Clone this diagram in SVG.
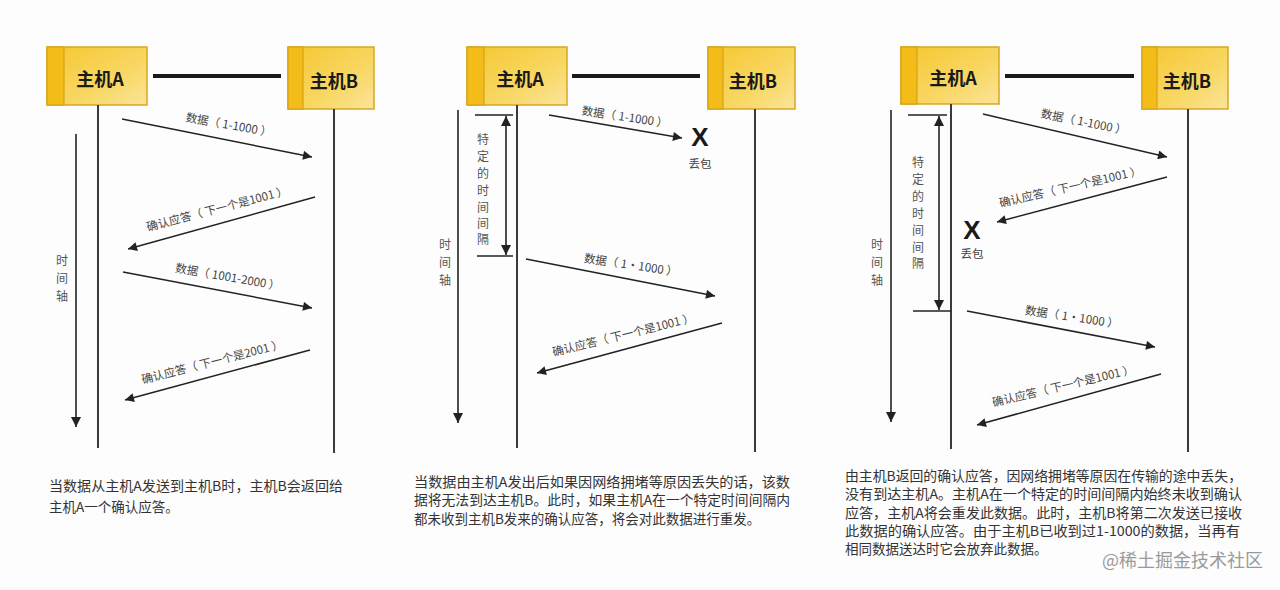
<svg xmlns="http://www.w3.org/2000/svg" width="1280" height="590" viewBox="0 0 1280 590">
<defs>
<linearGradient id="hostFill" x1="0" y1="0" x2="1" y2="1">
<stop offset="0" stop-color="#F5C630"/>
<stop offset="0.6" stop-color="#F8D762"/>
<stop offset="1" stop-color="#FBE49A"/>
</linearGradient>
<marker id="ah" viewBox="0 0 10 10" refX="10" refY="5" markerWidth="13" markerHeight="9" markerUnits="userSpaceOnUse" orient="auto-start-reverse">
<path d="M0,0 L10,5 L0,10 z" fill="#222"/>
</marker>
<marker id="ahv" viewBox="0 0 10 10" refX="10" refY="5" markerWidth="14" markerHeight="10" markerUnits="userSpaceOnUse" orient="auto-start-reverse">
<path d="M0,0 L10,5 L0,10 z" fill="#222"/>
</marker>
</defs>
<style>
.box{fill:url(#hostFill);stroke:#D8A620;stroke-width:1.5}
.stripe{fill:#F3BC18;stroke:#D5A21A;stroke-width:1.2}
.hname{font-family:"Noto Sans CJK SC","Liberation Sans",sans-serif;font-size:18px;font-weight:bold;fill:#1a1a1a;text-anchor:middle;dominant-baseline:central}
.link{stroke:#1a1a1a;stroke-width:4}
.life{stroke:#3a3a3a;stroke-width:2;fill:none}
.msg{stroke:#222;stroke-width:1.5;fill:none;marker-end:url(#ah)}
.axis{stroke:#222;stroke-width:1.6;fill:none;marker-end:url(#ahv)}
.intv{stroke:#222;stroke-width:1.6;fill:none;marker-start:url(#ahv);marker-end:url(#ahv)}
.tick{stroke:#222;stroke-width:1.5}
.lbl{font-family:"Noto Sans CJK SC","Liberation Sans",sans-serif;font-size:11.5px;fill:#444;text-anchor:middle;dominant-baseline:central;white-space:pre}
.vt{font-family:"Noto Sans CJK SC","Liberation Sans",sans-serif;font-size:12px;fill:#555;text-anchor:middle;dominant-baseline:central}
.x{font-family:"Liberation Sans",sans-serif;font-size:26px;font-weight:bold;fill:#1a1a1a;text-anchor:middle;dominant-baseline:central}
.cap{font-family:"Noto Sans CJK SC","Liberation Sans",sans-serif;font-size:13.5px;fill:#333}
.wm{font-family:"Noto Sans CJK SC","Liberation Sans",sans-serif;font-size:18px;fill:#9a9a9a}
</style>
<rect width="1280" height="590" fill="#fdfdfd"/>

<!-- Panel 1 -->
<g id="p1-hostA"><rect class="box" x="47" y="47" width="100" height="58"/><rect class="stripe" x="47" y="47" width="17" height="58"/><text class="hname" x="100" y="78">主机A</text></g>
<g id="p1-hostB"><rect class="box" x="288" y="47" width="86" height="62"/><rect class="stripe" x="288" y="47" width="15" height="62"/><text class="hname" x="334" y="80">主机B</text></g>
<g id="p1-connectors">
<line class="link" x1="153" y1="76" x2="281" y2="76"/>
<line class="life" x1="98" y1="105" x2="98" y2="448"/>
<line class="life" x1="334" y1="109" x2="334" y2="453"/>
<line class="axis" x1="76" y1="134" x2="76" y2="427"/>
<line class="msg" x1="122" y1="119" x2="312" y2="157"/>
<line class="msg" x1="315" y1="197" x2="128" y2="249"/>
<line class="msg" x1="123" y1="272" x2="312" y2="308"/>
<line class="msg" x1="310" y1="350" x2="125" y2="400"/>
</g>
<g id="p1-labels">
<text class="lbl" transform="translate(229,124) rotate(10)">数据（ 1-1000 ）</text>
<text class="lbl" transform="translate(217,208) rotate(-14.7)">确认应答（ 下一个是1001 ）</text>
<text class="lbl" transform="translate(228,276) rotate(10)">数据（ 1001-2000 ）</text>
<text class="lbl" transform="translate(212,361) rotate(-14.3)">确认应答（ 下一个是2001 ）</text>
<text class="vt"><tspan x="62" y="259">时</tspan><tspan x="62" y="277">间</tspan><tspan x="62" y="295">轴</tspan></text>
</g>
<g id="p1-caption">
<text class="cap" x="49" y="491" textLength="294" lengthAdjust="spacingAndGlyphs">当数据从主机A发送到主机B时，主机B会返回给</text>
<text class="cap" x="49" y="512">主机A一个确认应答。</text>
</g>

<!-- Panel 2 -->
<g id="p2-hostA"><rect class="box" x="467" y="47" width="100" height="58"/><rect class="stripe" x="467" y="47" width="17" height="58"/><text class="hname" x="520" y="78">主机A</text></g>
<g id="p2-hostB"><rect class="box" x="708" y="47" width="87" height="62"/><rect class="stripe" x="708" y="47" width="15" height="62"/><text class="hname" x="753" y="80">主机B</text></g>
<g id="p2-connectors">
<line class="link" x1="572" y1="76" x2="700" y2="76"/>
<line class="life" x1="517" y1="105" x2="517" y2="448"/>
<line class="life" x1="755" y1="109" x2="755" y2="452"/>
<line class="axis" x1="458" y1="110" x2="458" y2="423"/>
<line class="tick" x1="475" y1="115" x2="513" y2="115"/>
<line class="tick" x1="477" y1="256" x2="513" y2="256"/>
<line class="intv" x1="506" y1="116" x2="506" y2="255"/>
<line class="msg" x1="549" y1="115" x2="682" y2="138"/>
<line class="msg" x1="526" y1="259" x2="715" y2="296"/>
<line class="msg" x1="722" y1="323" x2="537" y2="373"/>
</g>
<g id="p2-labels">
<text class="lbl" transform="translate(625,116) rotate(8.5)">数据（ 1-1000 ）</text>
<text class="x" x="700" y="137">X</text>
<text class="lbl" x="700" y="163">丢包</text>
<text class="lbl" transform="translate(631,264) rotate(8.5)">数据（ 1·1000 ）</text>
<text class="lbl" transform="translate(623,334) rotate(-13.8)">确认应答（ 下一个是1001 ）</text>
<text class="vt"><tspan x="483" y="138">特</tspan><tspan x="483" y="155">定</tspan><tspan x="483" y="172">的</tspan><tspan x="483" y="189">时</tspan><tspan x="483" y="206">间</tspan><tspan x="483" y="222">间</tspan><tspan x="483" y="238">隔</tspan></text>
<text class="vt"><tspan x="445" y="243">时</tspan><tspan x="445" y="261">间</tspan><tspan x="445" y="279">轴</tspan></text>
</g>
<g id="p2-caption">
<text class="cap" x="414" y="487" textLength="376" lengthAdjust="spacingAndGlyphs">当数据由主机A发出后如果因网络拥堵等原因丢失的话，该数</text>
<text class="cap" x="414" y="505" textLength="376" lengthAdjust="spacingAndGlyphs">据将无法到达主机B。此时，如果主机A在一个特定时间间隔内</text>
<text class="cap" x="414" y="524">都未收到主机B发来的确认应答，将会对此数据进行重发。</text>
</g>

<!-- Panel 3 -->
<g id="p3-hostA"><rect class="box" x="901" y="47" width="98" height="57"/><rect class="stripe" x="901" y="47" width="16" height="57"/><text class="hname" x="953" y="77">主机A</text></g>
<g id="p3-hostB"><rect class="box" x="1142" y="47" width="86" height="62"/><rect class="stripe" x="1142" y="47" width="15" height="62"/><text class="hname" x="1187" y="80">主机B</text></g>
<g id="p3-connectors">
<line class="link" x1="1005" y1="76" x2="1134" y2="76"/>
<line class="life" x1="951" y1="104" x2="951" y2="449"/>
<line class="life" x1="1188" y1="109" x2="1188" y2="452"/>
<line class="axis" x1="891" y1="110" x2="891" y2="422"/>
<line class="tick" x1="908" y1="115" x2="947" y2="115"/>
<line class="tick" x1="913" y1="311" x2="951" y2="311"/>
<line class="intv" x1="939" y1="116" x2="939" y2="310"/>
<line class="msg" x1="983" y1="114" x2="1167" y2="157"/>
<line class="msg" x1="1167" y1="177" x2="997" y2="222"/>
<line class="msg" x1="967" y1="311" x2="1155" y2="347"/>
<line class="msg" x1="1161" y1="374" x2="977" y2="425"/>
</g>
<g id="p3-labels">
<text class="lbl" transform="translate(1084,121) rotate(11.5)">数据（ 1-1000 ）</text>
<text class="lbl" transform="translate(1070,186) rotate(-13)">确认应答（ 下一个是1001 ）</text>
<text class="x" x="972" y="230">X</text>
<text class="lbl" x="972" y="253">丢包</text>
<text class="lbl" transform="translate(1072,316) rotate(8.5)">数据（ 1·1000 ）</text>
<text class="lbl" transform="translate(1063,385) rotate(-13.4)">确认应答（ 下一个是1001 ）</text>
<text class="vt"><tspan x="918" y="161">特</tspan><tspan x="918" y="178">定</tspan><tspan x="918" y="195">的</tspan><tspan x="918" y="212">时</tspan><tspan x="918" y="229">间</tspan><tspan x="918" y="246">间</tspan><tspan x="918" y="262">隔</tspan></text>
<text class="vt"><tspan x="877" y="243">时</tspan><tspan x="877" y="261">间</tspan><tspan x="877" y="279">轴</tspan></text>
</g>
<g id="p3-caption">
<text class="cap" x="845" y="481" textLength="397" lengthAdjust="spacingAndGlyphs">由主机B返回的确认应答，因网络拥堵等原因在传输的途中丢失，</text>
<text class="cap" x="845" y="499" textLength="397" lengthAdjust="spacingAndGlyphs">没有到达主机A。主机A在一个特定的时间间隔内始终未收到确认</text>
<text class="cap" x="845" y="518" textLength="397" lengthAdjust="spacingAndGlyphs">应答，主机A将会重发此数据。此时，主机B将第二次发送已接收</text>
<text class="cap" x="845" y="536" textLength="395" lengthAdjust="spacingAndGlyphs">此数据的确认应答。由于主机B已收到过1-1000的数据，当再有</text>
<text class="cap" x="845" y="554">相同数据送达时它会放弃此数据。</text>
</g>
<text class="wm" x="1102" y="567">@稀土掘金技术社区</text>
</svg>
